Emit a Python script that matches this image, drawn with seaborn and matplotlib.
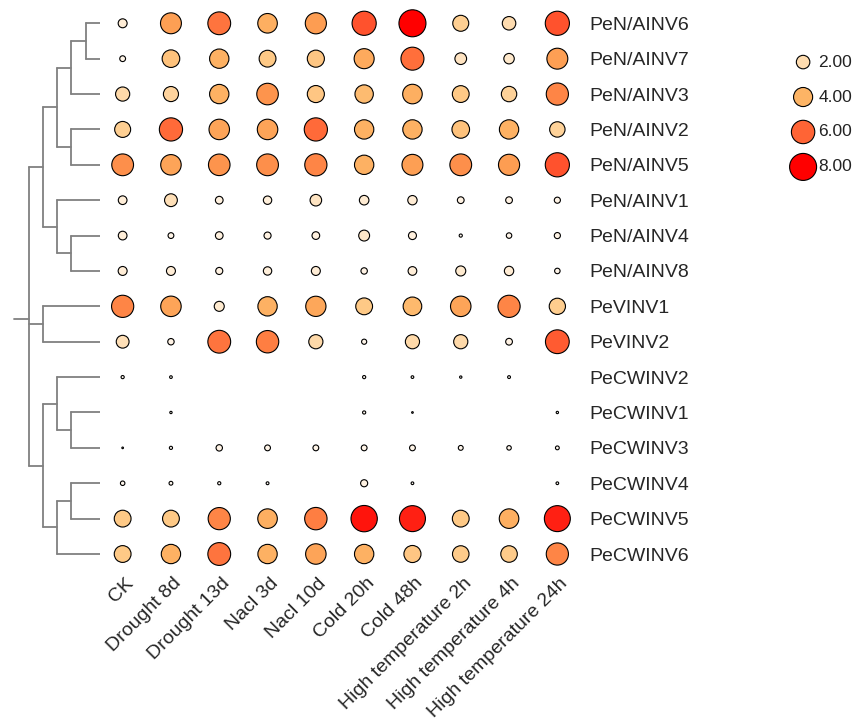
import matplotlib

matplotlib.use("Agg")
import matplotlib.pyplot as plt
import matplotlib.transforms as mtransforms
from matplotlib.colors import LinearSegmentedColormap
import pandas as pd
import seaborn as sns

genes = [
    "PeN/AINV6", "PeN/AINV7", "PeN/AINV3", "PeN/AINV2", "PeN/AINV5",
    "PeN/AINV1", "PeN/AINV4", "PeN/AINV8", "PeVINV1", "PeVINV2",
    "PeCWINV2", "PeCWINV1", "PeCWINV3", "PeCWINV4", "PeCWINV5", "PeCWINV6",
]
conditions = [
    "CK", "Drought 8d", "Drought 13d", "Nacl 3d", "Nacl 10d", "Cold 20h",
    "Cold 48h", "High temperature 2h", "High temperature 4h", "High temperature 24h",
]

# one row per gene, one column per condition
values = [
    [0.88, 4.8, 5.7, 4.2, 4.9, 6.4, 8.0, 2.8, 2.0, 6.4],
    [0.37, 3.4, 4.1, 3.1, 3.2, 4.4, 5.8, 1.5, 1.2, 4.8],
    [2.2, 2.5, 4.1, 5.1, 3.2, 3.7, 4.2, 3.1, 2.6, 5.4],
    [2.8, 5.9, 4.6, 4.6, 5.9, 4.1, 4.1, 3.4, 4.1, 2.6],
    [5.2, 4.6, 5.1, 5.2, 5.4, 4.1, 4.8, 5.2, 4.9, 6.4],
    [0.83, 1.8, 0.65, 0.77, 1.47, 1.0, 0.96, 0.5, 0.5, 0.41],
    [0.83, 0.37, 0.65, 0.55, 0.65, 1.3, 0.7, 0.11, 0.33, 0.41],
    [0.88, 0.88, 0.55, 0.77, 0.88, 0.45, 0.83, 1.1, 0.96, 0.33],
    [5.4, 4.6, 1.1, 4.1, 4.5, 3.1, 3.8, 4.6, 5.4, 2.9],
    [1.8, 0.45, 5.7, 5.5, 2.2, 0.29, 2.2, 2.2, 0.5, 6.2],
    [0.11, 0.08, 0, 0, 0, 0.11, 0.08, 0.06, 0.09, 0],
    [0, 0.06, 0, 0, 0, 0.11, 0.03, 0, 0, 0.06],
    [0.03, 0.11, 0.45, 0.37, 0.37, 0.37, 0.37, 0.26, 0.22, 0.16],
    [0.22, 0.16, 0.11, 0.09, 0, 0.55, 0.08, 0, 0, 0.08],
    [3.1, 3.1, 5.4, 4.2, 5.5, 7.6, 7.4, 3.1, 4.2, 7.4],
    [3.1, 4.1, 5.7, 4.1, 4.6, 4.1, 3.2, 3.0, 3.0, 5.4],
]

legend_values = [2, 4, 6, 8]
legend_labels = ["2.00", "4.00", "6.00", "8.00"]

# dendrogram: (children, merge level); leaves are 0..15, new nodes from 16
merges = [
    ([0, 1], 1), ([16, 2], 2), ([3, 4], 2), ([17, 18], 3),
    ([6, 7], 2), ([5, 20], 3), ([19, 21], 4), ([8, 9], 4),
    ([11, 12], 2), ([10, 24], 3), ([13, 14], 2), ([26, 15], 3),
    ([25, 27], 4), ([22, 23, 28], 5),
]

sns.set_theme(style="white")
plt.rcParams["font.family"] = ["Liberation Sans", "DejaVu Sans"]

cmap = LinearSegmentedColormap.from_list(
    "expr",
    [
        (0.0, "#fffaf4"), (0.25, "#fedcb0"), (0.375, "#fecb8a"), (0.5, "#fdb465"),
        (0.625, "#fd9a50"), (0.75, "#ff6536"), (0.875, "#ff3620"), (1.0, "#ff0000"),
    ],
)
max_size = 378

W, H = 857, 721
fig = plt.figure(figsize=(W / 100, H / 100), dpi=100)

# bubble grid
ax = fig.add_axes([98.5 / W, 1 - 571.7 / H, 483 / W, 566.1 / H])
df = pd.DataFrame(
    [(g, c, v) for g, row in zip(genes, values) for c, v in zip(conditions, row)],
    columns=["gene", "condition", "value"],
)
df = df[df["value"] > 0]
sns.scatterplot(
    data=df, x="condition", y="gene", size="value", hue="value",
    sizes=(0, max_size), size_norm=(0, 8), hue_norm=(0, 8), palette=cmap,
    edgecolor="black", linewidth=0.8, legend=False, ax=ax,
)
ax.set_xticks(range(len(conditions)))
ax.set_xticklabels(conditions, rotation=45, ha="right", rotation_mode="anchor", fontsize=14)
ax.set_yticks(range(len(genes)))
ax.set_yticklabels(genes, fontsize=14)
ax.set_xlim(-0.5, len(conditions) - 0.5)
ax.set_ylim(len(genes) - 0.5, -0.5)
ax.yaxis.tick_right()
ax.tick_params(axis="y", length=0, pad=6)
ax.tick_params(axis="x", length=0, pad=2.2)
offset = mtransforms.ScaledTranslation(2 / 100, 0, fig.dpi_scale_trans)
for lab in ax.get_xticklabels():
    lab.set_transform(lab.get_transform() + offset)
ax.set_xlabel("")
ax.set_ylabel("")
sns.despine(ax=ax, left=True, bottom=True)

# dendrogram
axd = fig.add_axes([0, 1 - 571.7 / H, 100 / W, 566.1 / H])
pos = {i: (0, float(i)) for i in range(len(genes))}
for k, (children, level) in enumerate(merges):
    ys = [pos[c][1] for c in children]
    axd.plot([level, level], [min(ys), max(ys)], color="#808080", lw=1.3)
    for c in children:
        axd.plot([pos[c][0], level], [pos[c][1], pos[c][1]], color="#808080", lw=1.3)
    pos[len(genes) + k] = (level, sum(ys) / len(ys))
root_level, root_y = pos[len(genes) + len(merges) - 1]
axd.plot([root_level, root_level + 1], [root_y, root_y], color="#808080", lw=1.3)
axd.set_xlim(7, 0)
axd.set_ylim(len(genes) - 0.5, -0.5)
axd.axis("off")

# size / colour legend
axl = fig.add_axes([780 / W, 1 - 184.4 / H, 77 / W, 139.8 / H])
leg = pd.DataFrame({"x": [0.3] * 4, "y": range(4), "value": legend_values})
sns.scatterplot(
    data=leg, x="x", y="y", size="value", hue="value",
    sizes=(0, max_size), size_norm=(0, 8), hue_norm=(0, 8), palette=cmap,
    edgecolor="black", linewidth=0.8, legend=False, ax=axl,
)
for i, t in enumerate(legend_labels):
    axl.text(0.5, i, t, ha="left", va="center", fontsize=12.5, color="#222222")
axl.set_xlim(0, 1)
axl.set_ylim(3.5, -0.5)
axl.axis("off")

fig.savefig("out.png", dpi=100)
